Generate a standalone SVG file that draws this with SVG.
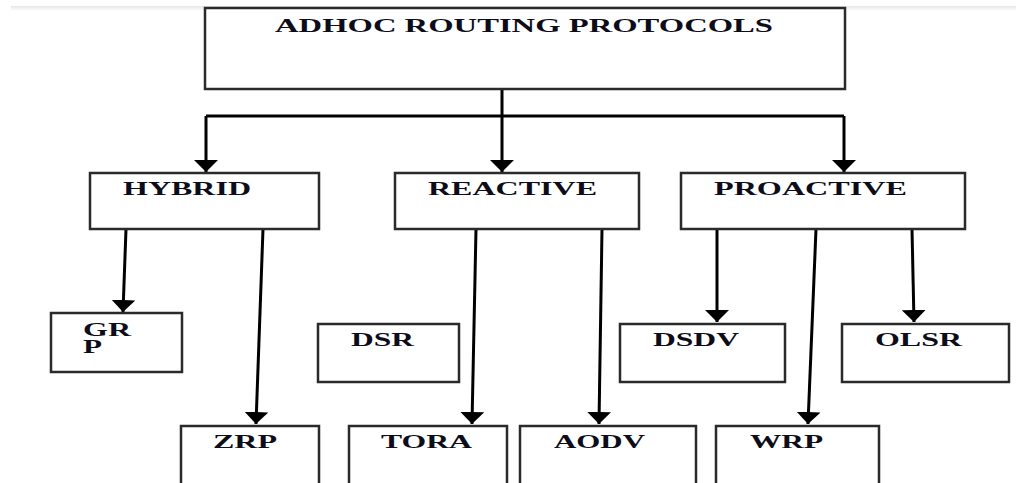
<svg xmlns="http://www.w3.org/2000/svg" width="1016" height="483" viewBox="0 0 1016 483">
<defs>
<marker id="ah" markerUnits="userSpaceOnUse" markerWidth="12" markerHeight="24" refX="12" refY="12" orient="auto" viewBox="0 0 12 24">
<path d="M0,0 L12,12 L0,24 z" fill="#000"/>
</marker>
<linearGradient id="sh" x1="0" y1="0" x2="0" y2="1">
<stop offset="0" stop-color="#e6e6e6"/>
<stop offset="1" stop-color="#ffffff"/>
</linearGradient>
<style>
.box{fill:#fff;stroke:#2a2a2a;stroke-width:2.5}
.lbl{font-family:"Liberation Serif","Times New Roman",serif;font-weight:bold;font-size:18px;fill:#0d0d1a}
.con{fill:none;stroke:#000;stroke-width:3}
</style>
</defs>
<rect x="0" y="0" width="1016" height="483" fill="#fff"/>
<rect x="11" y="6" width="1005" height="5" fill="url(#sh)"/>

<g id="connectors">
<path class="con" d="M502,89 V116"/>
<path class="con" d="M206,116 H844"/>
<path class="con" d="M206,116 V172" marker-end="url(#ah)"/>
<path class="con" d="M502,116 V172" marker-end="url(#ah)"/>
<path class="con" d="M844,116 V172" marker-end="url(#ah)"/>
<path class="con" d="M126,229 L123,312" marker-end="url(#ah)"/>
<path class="con" d="M263,229 L256,424" marker-end="url(#ah)"/>
<path class="con" d="M476,229 L472,424" marker-end="url(#ah)"/>
<path class="con" d="M602,229 L599,424" marker-end="url(#ah)"/>
<path class="con" d="M717,229 L717,322" marker-end="url(#ah)"/>
<path class="con" d="M816,229 L808,424" marker-end="url(#ah)"/>
<path class="con" d="M912,229 L914,322" marker-end="url(#ah)"/>
</g>

<g id="root">
<rect class="box" x="205" y="8" width="640" height="81"/>
<text class="lbl" x="275" y="32" textLength="498" lengthAdjust="spacingAndGlyphs">ADHOC ROUTING PROTOCOLS</text>
</g>
<g id="hybrid">
<rect class="box" x="90" y="173" width="229" height="56"/>
<text class="lbl" x="123" y="195" textLength="128" lengthAdjust="spacingAndGlyphs">HYBRID</text>
</g>
<g id="reactive">
<rect class="box" x="395" y="173" width="244" height="56"/>
<text class="lbl" x="428" y="195" textLength="169" lengthAdjust="spacingAndGlyphs">REACTIVE</text>
</g>
<g id="proactive">
<rect class="box" x="681" y="173" width="284" height="56"/>
<text class="lbl" x="714" y="195" textLength="193" lengthAdjust="spacingAndGlyphs">PROACTIVE</text>
</g>
<g id="grp">
<rect class="box" x="51" y="313" width="131" height="59"/>
<text class="lbl" x="83" y="336" textLength="48" lengthAdjust="spacingAndGlyphs">GR</text>
<text class="lbl" x="83" y="353" textLength="19" lengthAdjust="spacingAndGlyphs">P</text>
</g>
<g id="dsr">
<rect class="box" x="318" y="324" width="141" height="58"/>
<text class="lbl" x="351" y="346" textLength="63" lengthAdjust="spacingAndGlyphs">DSR</text>
</g>
<g id="dsdv">
<rect class="box" x="620" y="324" width="165" height="58"/>
<text class="lbl" x="653" y="346" textLength="86" lengthAdjust="spacingAndGlyphs">DSDV</text>
</g>
<g id="olsr">
<rect class="box" x="842" y="324" width="167" height="58"/>
<text class="lbl" x="875" y="346" textLength="87" lengthAdjust="spacingAndGlyphs">OLSR</text>
</g>
<g id="zrp">
<rect class="box" x="181" y="426" width="138" height="70"/>
<text class="lbl" x="213" y="448" textLength="64" lengthAdjust="spacingAndGlyphs">ZRP</text>
</g>
<g id="tora">
<rect class="box" x="349" y="426" width="158" height="70"/>
<text class="lbl" x="381" y="448" textLength="91" lengthAdjust="spacingAndGlyphs">TORA</text>
</g>
<g id="aodv">
<rect class="box" x="520" y="426" width="176" height="70"/>
<text class="lbl" x="554" y="448" textLength="91" lengthAdjust="spacingAndGlyphs">AODV</text>
</g>
<g id="wrp">
<rect class="box" x="716" y="426" width="163" height="70"/>
<text class="lbl" x="750" y="448" textLength="73" lengthAdjust="spacingAndGlyphs">WRP</text>
</g>
</svg>
